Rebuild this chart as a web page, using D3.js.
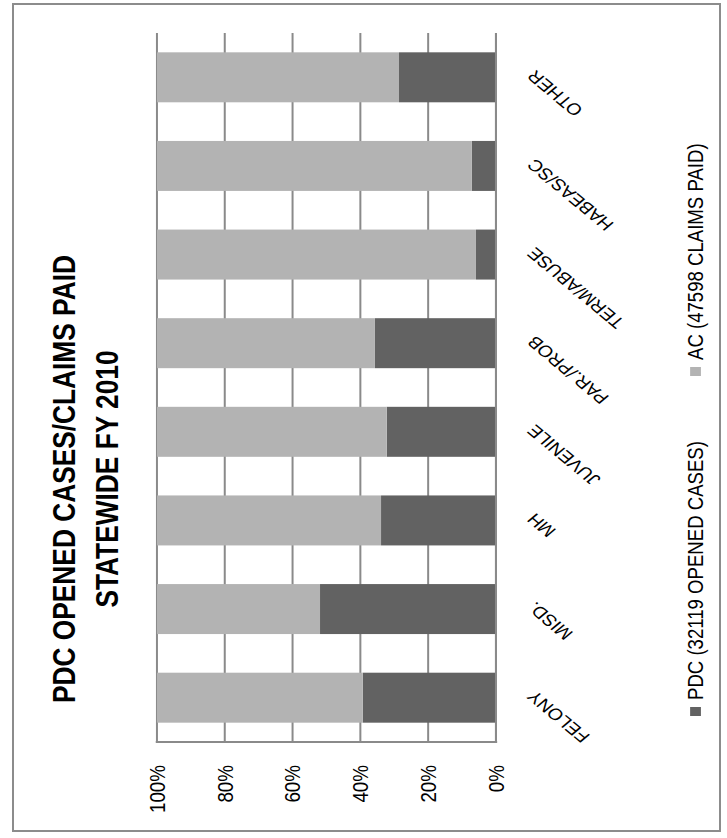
<!DOCTYPE html>
<html><head><meta charset="utf-8">
<script src="https://cdn.jsdelivr.net/npm/d3@7"></script>
<style>body{margin:0;background:#fff;} svg{display:block}</style>
</head><body><svg id="c" width="727" height="838"></svg>
<script>
const categories = ["FELONY","MISD.","MH","JUVENILE","PAR./PROB","TERM/ABUSE","HABEAS/SC","OTHER"];
const pdcShare = [39.3, 51.9, 33.9, 32.2, 35.7, 5.9, 7.1, 28.6];
const acShare  = [60.7, 48.1, 66.1, 67.8, 64.3, 94.1, 92.9, 71.4];
const tickValues = [0, 20, 40, 60, 80, 100];
const seriesKeys = ["PDC", "AC"];
const seriesNames = ["PDC (32119 OPENED CASES)", "AC (47598 CLAIMS PAID)"];
const titleLines = ["PDC OPENED CASES/CLAIMS PAID", "STATEWIDE FY 2010"];
const seriesColors = ["#626262", "#b3b3b3"];

const W = 838, sx = 1.2;
const font = "'Liberation Sans', Arial, sans-serif";
const svg = d3.select("#c");
svg.append("rect").attr("width",727).attr("height",838).attr("fill","#fff");
svg.append("rect").attr("x",13).attr("y",4).attr("width",707).attr("height",827)
  .attr("fill","none").attr("stroke","#8c8c8c").attr("stroke-width",2);

// chart drawn in its unrotated frame, then turned a quarter turn
const g = svg.append("g").attr("transform", `scale(${sx},1) translate(0,${W}) rotate(-90)`);

const rows = categories.map((c,i) => ({cat:c, PDC:pdcShare[i], AC:acShare[i]}));
const stack = d3.stack().keys(seriesKeys)(rows);

const x = d3.scaleBand().domain(categories).range([96, 805]).paddingInner(0.436).paddingOuter(0.218);
const y = d3.scaleLinear().domain([0, 100]).range([413.3, 130.8]);
const color = d3.scaleOrdinal().domain(seriesKeys).range(seriesColors);

// gridlines
g.append("g").selectAll("line").data(tickValues).join("line")
  .attr("x1", 96).attr("x2", 805).attr("y1", d => y(d)).attr("y2", d => y(d))
  .attr("stroke", "#8a8a8a").attr("stroke-width", 2).attr("vector-effect","non-scaling-stroke");

// bars
g.append("g").selectAll("g").data(stack).join("g").attr("fill", d => color(d.key))
  .selectAll("rect").data(d => d).join("rect")
  .attr("x", d => x(d.data.cat)).attr("width", x.bandwidth())
  .attr("y", d => y(d[1])).attr("height", d => y(d[0]) - y(d[1]));

// axis lines
g.append("line").attr("x1",96).attr("x2",805).attr("y1",y(0)).attr("y2",y(0))
  .attr("stroke","#8a8a8a").attr("stroke-width",2).attr("vector-effect","non-scaling-stroke");
g.append("line").attr("x1",96).attr("x2",96).attr("y1",y(100)-1).attr("y2",y(0)+1)
  .attr("stroke","#8a8a8a").attr("stroke-width",2).attr("vector-effect","non-scaling-stroke");

// value axis labels
const ya = g.append("g").attr("transform","translate(96,0)")
  .call(d3.axisLeft(y).tickValues(tickValues).tickSize(0).tickPadding(23).tickFormat(d => d + "%"));
ya.select(".domain").remove();
ya.selectAll("text").attr("font-family", font).attr("font-size", 18.8).attr("fill","#000");

// category labels
const xa = g.append("g").attr("transform", `translate(0,${y(0)})`)
  .call(d3.axisBottom(x).tickSize(0));
xa.select(".domain").remove();
xa.selectAll("text").attr("x",0).attr("y",0).attr("dy","0.35em")
  .attr("text-anchor","end").attr("transform","translate(4,29) rotate(-45)")
  .attr("font-family", font).attr("font-size", 16.3).attr("fill","#000");

// legend
const legStarts = [122, 462];
const lg = g.append("g");
seriesKeys.forEach((k,i) => {
  lg.append("rect").attr("x", legStarts[i]).attr("y", 579.6 - 4.5).attr("width", 9).attr("height", 9)
    .attr("fill", color(k));
  lg.append("text").attr("x", legStarts[i] + 16).attr("y", 579.6).attr("dy","0.35em")
    .attr("font-family", font).attr("font-size", 18.6).attr("fill","#000").text(seriesNames[i]);
});

// title
g.append("g").selectAll("text").data(titleLines).join("text")
  .attr("x", 359).attr("y", (d,i) => [62.5, 98][i]).attr("text-anchor","middle")
  .attr("font-family", font).attr("font-weight","bold").attr("font-size", 26.3).attr("fill","#000")
  .text(d => d);
</script></body></html>
